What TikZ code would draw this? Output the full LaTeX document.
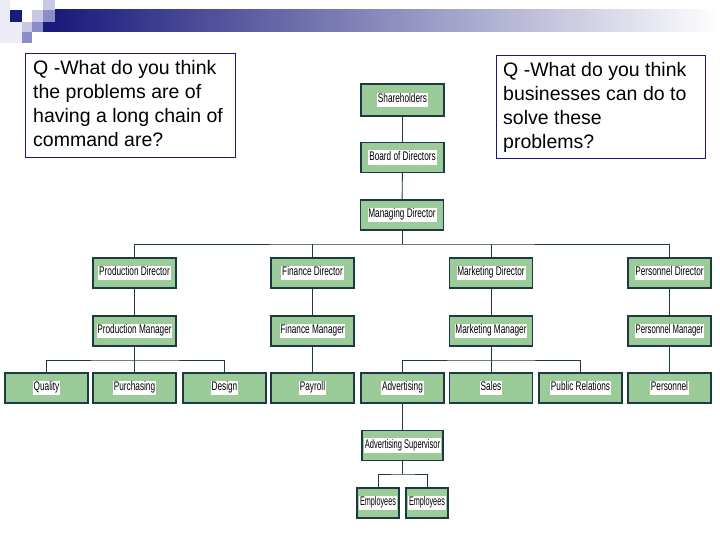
\documentclass[tikz,border=0pt]{standalone}
\usepackage{fontspec}
\usepackage{graphicx}
\setmainfont{Liberation Sans}
\definecolor{navy}{HTML}{1A1A7C}
\definecolor{lav}{HTML}{C8C8E6}
\definecolor{medlav}{HTML}{8C8CC6}
\definecolor{faint}{HTML}{ECECF6}
\definecolor{boxgreen}{HTML}{9ACB98}
\definecolor{boxedge}{HTML}{1C3A40}
\newcommand\lbl[2][0.66]{{\setlength\fboxsep{0.8pt}\colorbox{white}{\scalebox{#1}[1]{\strut #2}}}}
\tikzset{
  org/.style={draw=boxedge, line width=1.3pt, fill=boxgreen, minimum width=83pt, minimum height=30pt, inner sep=0pt, font=\fontsize{12.5}{13}\selectfont},
  small/.style={org, minimum width=42pt},
  conn/.style={draw=boxedge, line width=0.9pt},
  qtext/.style={anchor=north west, inner sep=0pt, align=left, font=\fontsize{19.5}{24}\selectfont}
}
\begin{document}
\begin{tikzpicture}[x=1pt,y=-1pt]
\useasboundingbox (0,0) rectangle (720,540);
\fill[white] (0,0) rectangle (720,540);
% header decoration
\fill[faint] (0,0) rectangle (10,43);
\fill[faint] (10,22) rectangle (22,43);
\shade[left color=navy, middle color={rgb,255:red,150;green,150;blue,185}, right color=white, shading angle=90] (55,10) rectangle (720,32);
\fill[navy] (10,10) rectangle (22,22);
\fill[lav] (32,10) rectangle (43,22);
\fill[medlav] (43,10) rectangle (55,22);
\fill[lav] (43,0) rectangle (55,10);
\fill[lav] (22,22) rectangle (32,32);
\fill[medlav] (32,22) rectangle (43,32);
\fill[navy] (43,22) rectangle (55,32);
\fill[medlav] (22,32) rectangle (32,43);
% question boxes
\draw[navy, line width=0.8pt, fill=white] (25,53) rectangle (235,157);
\node[qtext] (q1) at (33,60) {Q -What do you think\\the problems are of\\having a long chain of\\command are?};
\draw[navy, line width=0.8pt, fill=white] (496,55) rectangle (705,158);
\node[qtext] (q2) at (503,62) {Q -What do you think\\businesses can do to\\solve these\\problems?};
% org chart nodes
\node[org, minimum height=32pt] (sh) at (402.5,100) {\lbl{Shareholders}};
\node[org] (bd) at (402.5,157.5) {\lbl{Board of Directors}};
\node[org] (md) at (402,215) {\lbl{Managing Director}};
\node[org] (pd) at (134.5,273) {\lbl{Production Director}};
\node[org] (fd) at (312.5,273) {\lbl{Finance Director}};
\node[org] (mkd) at (491,273) {\lbl{Marketing Director}};
\node[org] (psd) at (669.5,273) {\lbl{Personnel Director}};
\node[org] (pm) at (134.5,331) {\lbl{Production Manager}};
\node[org] (fm) at (312.5,331) {\lbl{Finance Manager}};
\node[org] (mkm) at (491,331) {\lbl{Marketing Manager}};
\node[org] (psm) at (669.5,331) {\lbl[0.62]{Personnel Manager}};
\node[org] (qu) at (46.5,388) {\lbl{Quality}};
\node[org] (pu) at (134.5,388) {\lbl{Purchasing}};
\node[org] (de) at (224.5,388) {\lbl{Design}};
\node[org] (pa) at (312.5,388) {\lbl{Payroll}};
\node[org] (ad) at (402.5,388) {\lbl{Advertising}};
\node[org] (sa) at (491,388) {\lbl{Sales}};
\node[org] (pr) at (580.5,388) {\lbl{Public Relations}};
\node[org] (pe) at (669.5,388) {\lbl{Personnel}};
\node[org, minimum width=81pt] (as) at (402.5,445.5) {\lbl[0.6]{Advertising Supervisor}};
\node[small] (e1) at (378,503) {\lbl[0.58]{Employees}};
\node[small] (e2) at (427,503) {\lbl[0.58]{Employees}};
% connectors
\draw[conn] (sh) -- (bd);
\draw[conn] (bd) -- (md);
\coordinate (b1) at (402,244);
\draw[conn] (md.south) -- (b1);
\draw[conn] (pd.north) |- (b1) -| (psd.north);
\draw[conn] (fd.north) -- (fd.north |- b1);
\draw[conn] (mkd.north) -- (mkd.north |- b1);
\draw[conn] (pd) -- (pm);
\draw[conn] (fd) -- (fm);
\draw[conn] (mkd) -- (mkm);
\draw[conn] (psd) -- (psm);
\coordinate (b2) at (134.5,360);
\draw[conn] (qu.north) |- (b2) -| (de.north);
\draw[conn] (pm.south) -- (pu.north);
\draw[conn] (fm) -- (pa);
\coordinate (b3) at (491,360);
\draw[conn] (ad.north) |- (b3) -| (pr.north);
\draw[conn] (mkm.south) -- (sa.north);
\draw[conn] (psm) -- (pe);
\draw[conn] (ad) -- (as);
\coordinate (b4) at (402.5,474);
\draw[conn] (as.south) -- (b4);
\draw[conn] (e1.north) |- (b4) -| (e2.north);
\end{tikzpicture}
\end{document}
